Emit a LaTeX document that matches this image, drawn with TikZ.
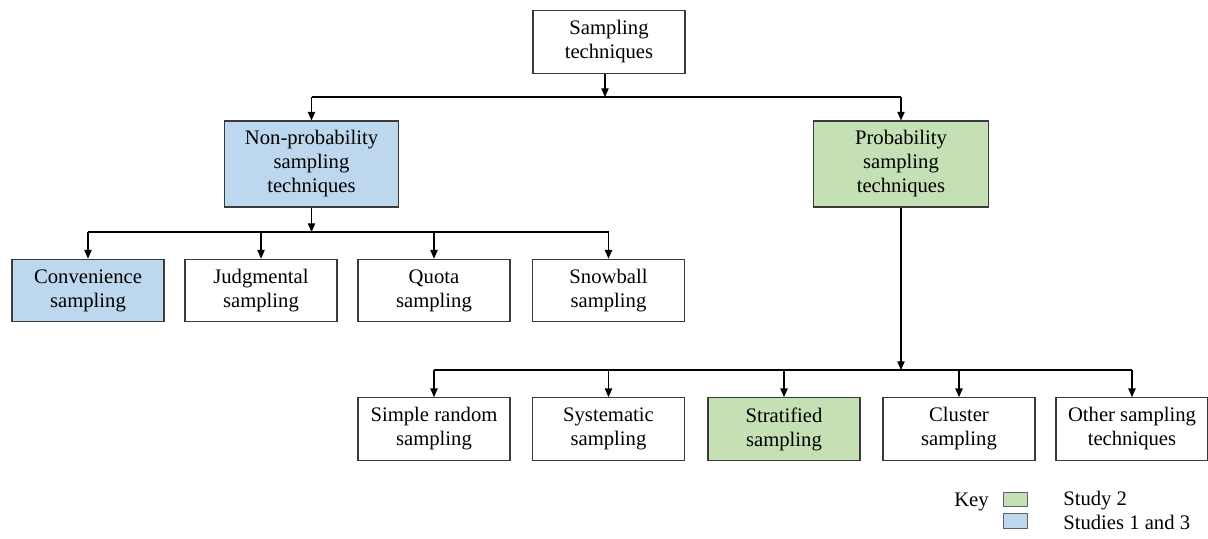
\documentclass[tikz,border=0pt]{standalone}
\usepackage{fontspec}
\setmainfont{Liberation Serif}
\usetikzlibrary{arrows.meta}
\definecolor{probgreen}{HTML}{C5E0B4}
\definecolor{nonblue}{HTML}{BDD7EE}
\definecolor{edge}{HTML}{3A3A3A}
\begin{document}
\begin{tikzpicture}[x=0.75pt,y=-0.75pt,
  box/.style={draw=edge,line width=0.8pt,align=center,inner sep=0pt,
    font=\fontsize{15.5}{18}\selectfont,minimum width=114pt,minimum height=47pt},
  bigbox/.style={box,minimum width=131pt,minimum height=64.5pt},
  arr/.style={-{Triangle[length=6.5pt,width=5.5pt]},line width=0.8pt,draw=black},
  link/.style={line width=0.8pt,draw=black},
  keybox/.style={draw=edge!80,line width=0.6pt,minimum width=18pt,minimum height=11pt,inner sep=0pt},
  keytext/.style={font=\fontsize{15.5}{18}\selectfont,inner sep=0pt,anchor=west}]
\useasboundingbox (0,0) rectangle (1208,539);

% root
\node[box] (top) at (609,42) {Sampling\\techniques};

% second level
\node[bigbox,fill=nonblue] (np) at (311.5,164) {Non-probability\\sampling\\techniques};
\node[bigbox,fill=probgreen] (pr) at (901,164) {Probability\\sampling\\techniques};

% non-probability leaves
\node[box,fill=nonblue] (conv) at (88,290.5) {Convenience\\sampling};
\node[box] (judg) at (261,290.5) {Judgmental\\sampling};
\node[box] (quota) at (434,290.5) {Quota\\sampling};
\node[box] (snow) at (608.5,290.5) {Snowball\\sampling};

% probability leaves
\node[box] (simple) at (434,429) {Simple random\\sampling};
\node[box] (syst) at (608.5,429) {Systematic\\sampling};
\node[box,fill=probgreen] (strat) at (784,429) {Stratified\\sampling};
\node[box] (clust) at (959,429) {Cluster\\sampling};
\node[box] (other) at (1132,429) {Other sampling\\techniques};

% junction points of the bus lines
\coordinate (j0) at (605,97);
\coordinate (j1) at (311.5,232);
\coordinate (j2) at (901,370);

% root to second level
\draw[arr] (top.south -| j0) -- (j0);
\draw[link] (np.north |- j0) -- (pr.north |- j0);
\draw[arr] (np.north |- j0) -- (np.north);
\draw[arr] (pr.north |- j0) -- (pr.north);

% non-probability branch
\draw[arr] (np.south) -- (j1);
\draw[link] (conv.north |- j1) -- (snow.north |- j1);
\foreach \n in {conv,judg,quota,snow}
  \draw[arr] (\n.north |- j1) -- (\n.north);

% probability branch
\draw[arr] (pr.south) -- (j2);
\draw[link] (simple.north |- j2) -- (other.north |- j2);
\foreach \n in {simple,syst,strat,clust,other}
  \draw[arr] (\n.north |- j2) -- (\n.north);

% key
\node[keytext,anchor=east] (keylbl) at (989,502) {Key};
\node[keybox,fill=probgreen] (kg) at (1015,499.5) {};
\node[keybox,fill=nonblue] (kb) at (1015,521) {};
\node[keytext] (kgt) at (1063,501) {Study 2};
\node[keytext] (kbt) at (1063,522) {Studies 1 and 3};
\end{tikzpicture}
\end{document}
